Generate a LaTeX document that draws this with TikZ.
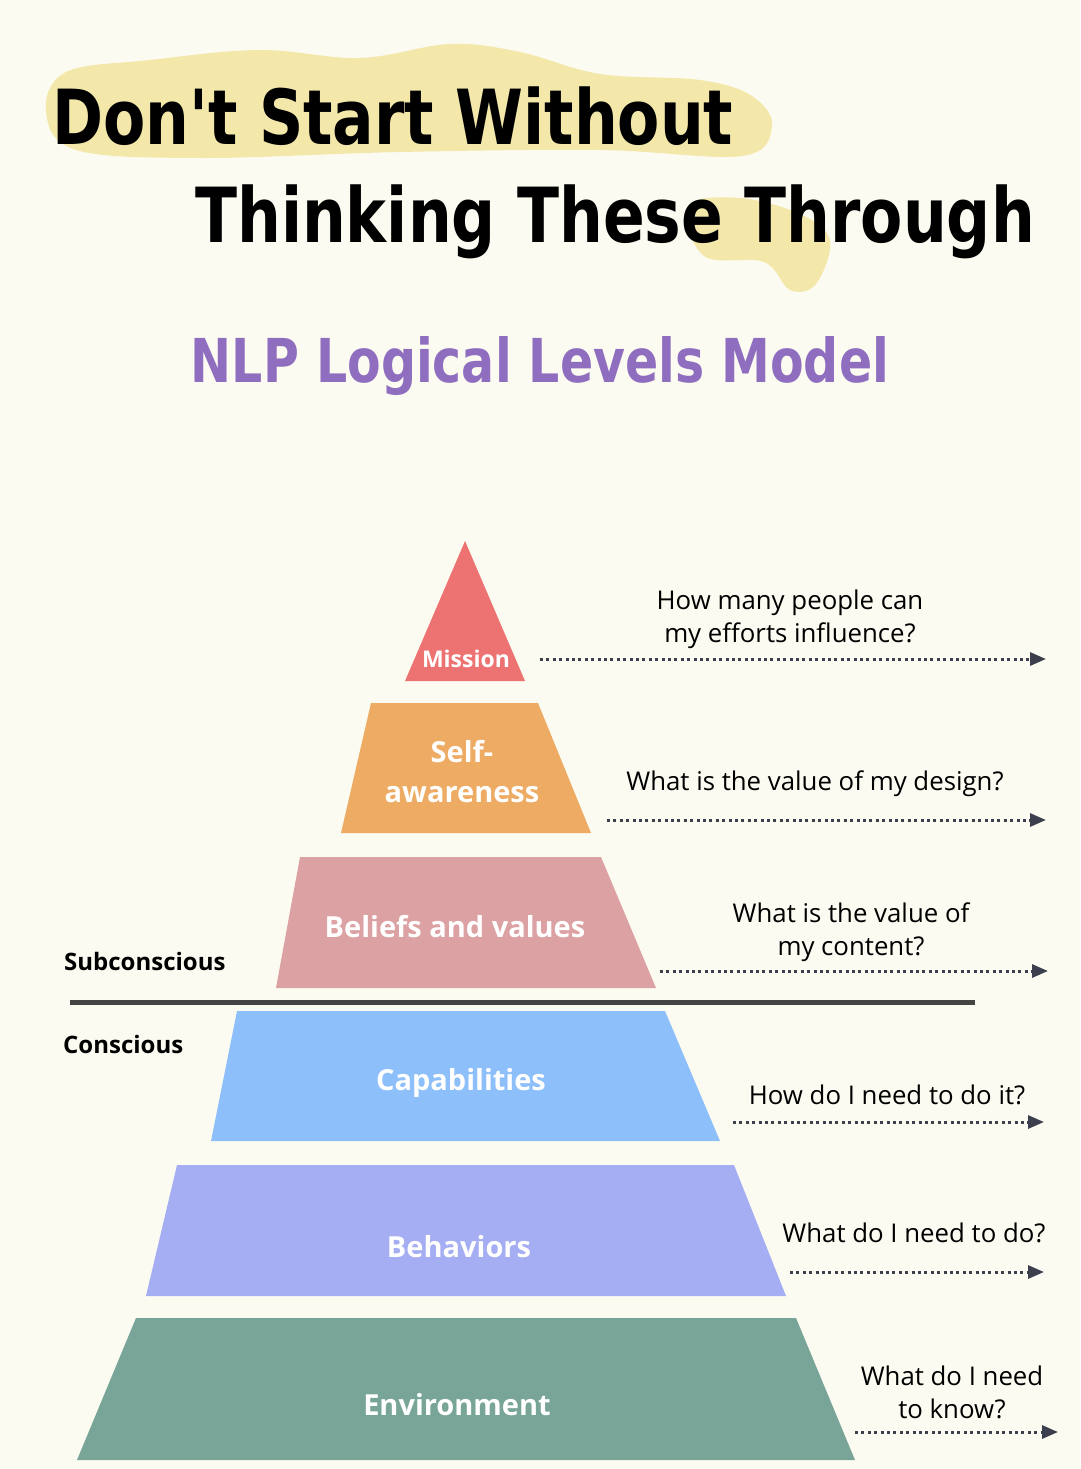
\documentclass[tikz,border=0pt]{standalone}
\usepackage{fontspec}
\usepackage{xcolor}
\setmainfont{Open Sans}
\newfontfamily\titlefont{DejaVu Sans}[FakeStretch=0.81]
\newfontfamily\labelfont{Open Sans}
\usetikzlibrary{arrows.meta,positioning}

\definecolor{paper}{HTML}{FCFBF1}
\definecolor{marker}{HTML}{F0E08C}
\definecolor{nlppurple}{HTML}{8F6DBF}
\definecolor{missioncol}{HTML}{EC7372}
\definecolor{selfcol}{HTML}{EEAB63}
\definecolor{beliefcol}{HTML}{DCA1A3}
\definecolor{capcol}{HTML}{8DBFFA}
\definecolor{behavcol}{HTML}{A5AEF3}
\definecolor{envcol}{HTML}{79A498}
\definecolor{arrowgray}{HTML}{3B3F4E}
\definecolor{divider}{HTML}{444444}

\begin{document}
\begin{tikzpicture}[
    x=1pt, y=-1pt,
    title/.style={font=\titlefont\bfseries\fontsize{76}{80}\selectfont, inner sep=0pt},
    level/.style={font=\labelfont\bfseries\fontsize{29}{40}\selectfont, text=white, align=center, inner sep=0pt},
    side/.style={font=\labelfont\bfseries\fontsize{24}{30}\selectfont, inner sep=0pt},
    question/.style={font=\labelfont\fontsize{25.8}{33}\selectfont, align=center, inner sep=0pt},
    arrow/.style={-{Triangle[length=16pt,width=13pt]}, draw=arrowgray, line width=3pt, dash pattern=on 3pt off 3.4pt}
]

% page and background
\useasboundingbox (0,0) rectangle (1080,1469);
\fill[paper] (0,0) rectangle (1080,1469);

% marker strokes behind the title
\fill[marker, opacity=0.7] plot[smooth cycle, tension=0.6] coordinates {(46,112) (66,72) (150,60) (260,50) (360,58) (450,44) (520,52) (600,74) (700,80) (752,96) (772,126) (742,156) (600,150) (400,152) (200,158) (76,150)};
\fill[marker, opacity=0.7] plot[smooth cycle, tension=0.6] coordinates {(688,206) (740,198) (800,214) (830,240) (816,284) (790,290) (764,262) (704,256)};

% title
\node[title, anchor=base west] (title1) at (52,145) {Don't Start Without};
\node[title, anchor=base west] (title2) at (195,242) {Thinking These Through};
\node[title, font=\titlefont\bfseries\fontsize{60.5}{63}\selectfont, text=nlppurple, anchor=base] (model) at (540,382) {NLP Logical Levels Model};

% pyramid levels
\fill[missioncol] (405,681) -- (465,541) -- (525,681) -- cycle;
\fill[selfcol] (341,833) -- (371,703) -- (538,703) -- (591,833) -- cycle;
\fill[beliefcol] (276,988) -- (300,857) -- (601,857) -- (656,988) -- cycle;
\fill[capcol] (211,1141) -- (237,1011) -- (665,1011) -- (720,1141) -- cycle;
\fill[behavcol] (146,1296) -- (177,1165) -- (734,1165) -- (786,1296) -- cycle;
\fill[envcol] (77,1460) -- (136,1318) -- (796,1318) -- (855,1460) -- cycle;

\node[level, font=\labelfont\bfseries\fontsize{23}{26}\selectfont] (mission) at (466,659) {Mission};
\node[level] (self) at (462,772) {Self-\\awareness};
\node[level] (beliefs) at (455,927) {Beliefs and values};
\node[level] (capabilities) at (461,1083) {Capabilities};
\node[level] (behaviors) at (459,1247) {Behaviors};
\node[level] (environment) at (457,1405) {Environment};

% divider between subconscious and conscious
\coordinate (divleft) at (70,1002);
\coordinate (divright) at (975,1002);
\draw[divider, line width=5pt] (divleft) -- (divright);
\node[side, anchor=base west] (subconscious) at (64,970) {Subconscious};
\node[side, anchor=base west] (conscious) at (63,1053) {Conscious};

% questions
\node[question] (q1) at (790,619) {How many people can\\my efforts influence?};
\node[question] (q2) at (815,784) {What is the value of my design?};
\node[question] (q3) at (851,932) {What is the value of\\my content?};
\node[question] (q4) at (887,1095) {How do I need to do it?};
\node[question] (q5) at (914,1233) {What do I need to do?};
\node[question] (q6) at (952,1392) {What do I need\\to know?};

\coordinate (a1) at (540,659);  \coordinate (b1) at (1046,659);
\coordinate (a2) at (607,820);  \coordinate (b2) at (1046,820);
\coordinate (a3) at (660,971);  \coordinate (b3) at (1048,971);
\coordinate (a4) at (733,1122); \coordinate (b4) at (1044,1122);
\coordinate (a5) at (790,1272); \coordinate (b5) at (1044,1272);
\coordinate (a6) at (855,1432); \coordinate (b6) at (1058,1432);

\foreach \i in {1,...,6}
    \draw[arrow] (a\i) -- (b\i);

\end{tikzpicture}
\end{document}
